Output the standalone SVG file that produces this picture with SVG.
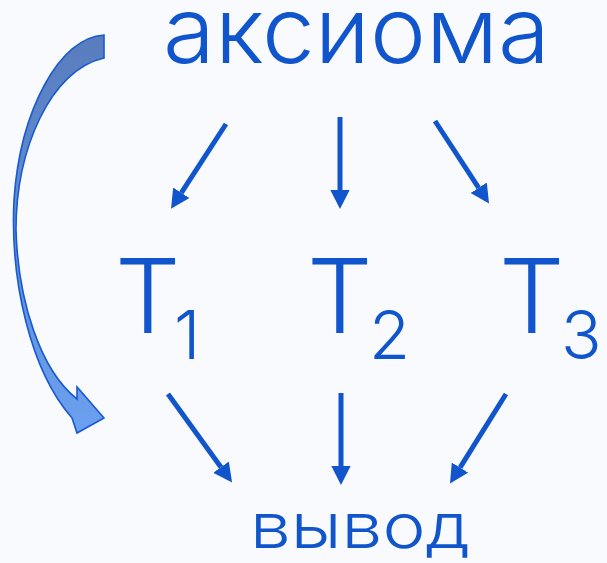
<svg xmlns="http://www.w3.org/2000/svg" width="607" height="563" viewBox="0 0 607 563">
<style>
.lbl{font-family:"Inter","Open Sans","Liberation Sans",sans-serif;font-weight:300;fill:#1155cc;}
.sub{font-size:67px;}
.conn{stroke:#1155cc;stroke-width:5;fill:none;marker-end:url(#ah);}
</style>
<defs>
<marker id="ah" markerUnits="userSpaceOnUse" markerWidth="20" markerHeight="20" viewBox="0 -9 18 18" refX="0" refY="0" orient="auto">
<path d="M0,-8.7 L17,0 L0,8.7 Z" fill="#1155cc"/>
</marker>
<linearGradient id="cg" x1="0" y1="0" x2="0" y2="1">
<stop offset="0" stop-color="#587dbd"/>
<stop offset="1" stop-color="#6ba0f0"/>
</linearGradient>
</defs>
<rect width="607" height="563" fill="#f8fafd"/>
<g id="axiom"><text class="lbl" x="163" y="63" font-size="92" textLength="387" lengthAdjust="spacingAndGlyphs">аксиома</text></g>
<g id="t1"><text class="lbl" x="115" y="333" font-size="103">T<tspan class="sub" x="174" y="359">1</tspan></text></g>
<g id="t2"><text class="lbl" x="307" y="333" font-size="103">T<tspan class="sub" x="369" y="359">2</tspan></text></g>
<g id="t3"><text class="lbl" x="499" y="333" font-size="103">T<tspan class="sub" x="561" y="359">3</tspan></text></g>
<g id="conclusion"><text class="lbl" x="250" y="548" font-size="62" textLength="220" lengthAdjust="spacingAndGlyphs">вывод</text></g>
<g id="connectors">
<line class="conn" x1="226" y1="124" x2="181.3" y2="192.8"/>
<line class="conn" x1="340" y1="117" x2="340" y2="190"/>
<line class="conn" x1="435" y1="121" x2="478.7" y2="187.8"/>
<line class="conn" x1="168" y1="394" x2="221" y2="467.2"/>
<line class="conn" x1="341" y1="393" x2="341" y2="466"/>
<line class="conn" x1="506" y1="394" x2="460" y2="467.6"/>
<path id="curved" d="M104,35 C60,37 20,110 14,200 C10,280 30,370 72,418 L77,433 L104,418 L77,387 L77,399 C40,370 18,300 16,230 C16,150 50,70 104,58 Z" fill="url(#cg)" stroke="#1a5ad0" stroke-width="1.6" stroke-linejoin="miter"/>
</g>
</svg>
